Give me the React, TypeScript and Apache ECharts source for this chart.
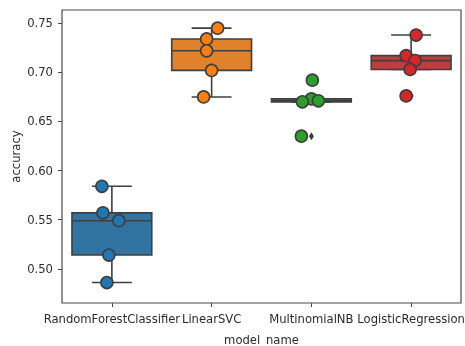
import React, { useEffect, useRef } from 'react';
import * as echarts from 'echarts';

const categories = ['RandomForestClassifier', 'LinearSVC', 'MultinomialNB', 'LogisticRegression'];
const yTicks = [0.5, 0.55, 0.6, 0.65, 0.7, 0.75];

// accuracy per fold, per model
const rfScores = [0.584, 0.557, 0.549, 0.514, 0.486];
const svcScores = [0.745, 0.734, 0.722, 0.702, 0.675];
const nbScores = [0.692, 0.673, 0.671, 0.67, 0.635];
const lrScores = [0.738, 0.717, 0.712, 0.703, 0.676];
// strip-plot jitter (in category units)
const rfJitter = [-0.1, -0.09, 0.07, -0.03, -0.05];
const svcJitter = [0.06, -0.05, -0.05, 0.0, -0.08];
const nbJitter = [0.01, 0.0, 0.07, -0.09, -0.1];
const lrJitter = [0.05, -0.05, 0.04, -0.01, -0.05];

// [lower whisker, q1, median, q3, upper whisker]
const boxStats = [
  [0.486, 0.514, 0.549, 0.557, 0.584],
  [0.675, 0.702, 0.722, 0.734, 0.745],
  [0.67, 0.67, 0.671, 0.673, 0.673],
  [0.703, 0.703, 0.712, 0.717, 0.738],
];
const outliers = [
  [2, 0.635],
  [2, 0.692],
  [3, 0.676],
];

const boxColors = ['#3274a1', '#e1812c', '#3a923a', '#c03d3e'];
const pointColors = ['#1f77b4', '#ff7f0e', '#2ca02c', '#d62728'];
const lineColor = '#3f3f3f';
const textColor = '#2b2b2b';
const fontSize = 11.6;

export default function App() {
  const ref = useRef<HTMLDivElement>(null);
  useEffect(() => {
    if (!ref.current) return;
    const chart = echarts.init(ref.current, undefined, { renderer: 'svg' });
    const allScores = [rfScores, svcScores, nbScores, lrScores];
    const allJitter = [rfJitter, svcJitter, nbJitter, lrJitter];

    const pointSeries = allScores.map((scores, ci) => ({
      type: 'scatter',
      xAxisIndex: 1,
      z: 5,
      symbol: 'circle',
      symbolSize: 12,
      itemStyle: { color: pointColors[ci], borderColor: lineColor, borderWidth: 1.6, opacity: 1 },
      data: scores.map((v, i) => [ci + allJitter[ci][i], v]),
      emphasis: { disabled: true },
    }));

    const option: any = {
      animation: false,
      grid: {
        left: 62,
        right: 4,
        top: 10,
        bottom: 43,
        containLabel: false,
        outerBoundsMode: 'none',
        show: true,
        borderColor: '#4a4a4a',
        borderWidth: 1.2,
      },
      xAxis: [
        {
          type: 'category',
          data: categories,
          name: 'model_name',
          nameLocation: 'middle',
          nameGap: 31,
          nameMoveOverlap: false,
          nameTextStyle: { fontFamily: 'DejaVu Sans', fontSize, color: textColor },
          axisLine: { show: false },
          axisTick: { show: true, alignWithLabel: true, length: 4, lineStyle: { color: '#4a4a4a' } },
          axisLabel: { interval: 0, fontFamily: 'DejaVu Sans', fontSize, color: textColor, margin: 10 },
          splitLine: { show: false },
        },
        {
          type: 'value',
          min: -0.5,
          max: 3.5,
          show: false,
        },
      ],
      yAxis: {
        type: 'value',
        min: 0.4652,
        max: 0.7635,
        name: 'accuracy',
        nameLocation: 'middle',
        nameGap: 40,
        nameMoveOverlap: false,
        nameTextStyle: { fontFamily: 'DejaVu Sans', fontSize, color: textColor },
        axisLine: { show: false, onZero: false },
        axisTick: { show: true, length: 4, customValues: yTicks, lineStyle: { color: '#4a4a4a' } },
        axisLabel: {
          customValues: yTicks,
          fontFamily: 'DejaVu Sans',
          fontSize,
          color: textColor,
          margin: 9,
          formatter: (v: number) => v.toFixed(2),
        },
        splitLine: { show: false },
      },
      series: [
        {
          type: 'custom',
          xAxisIndex: 1,
          z: 2,
          data: boxStats.map((s, i) => [i, ...s]),
          renderItem: (params: any, api: any) => {
            const ci = api.value(0);
            const lo = api.value(1);
            const q1 = api.value(2);
            const med = api.value(3);
            const q3 = api.value(4);
            const hi = api.value(5);
            const band = api.size([1, 0])[0];
            const hw = band * 0.4;
            const cw = band * 0.2;
            const pLo = api.coord([ci, lo]);
            const pQ1 = api.coord([ci, q1]);
            const pMed = api.coord([ci, med]);
            const pQ3 = api.coord([ci, q3]);
            const pHi = api.coord([ci, hi]);
            const x = pMed[0];
            const ls = { stroke: lineColor, lineWidth: 1.6 };
            return {
              type: 'group',
              children: [
                { type: 'line', shape: { x1: x, y1: pQ3[1], x2: x, y2: pHi[1] }, style: ls },
                { type: 'line', shape: { x1: x, y1: pQ1[1], x2: x, y2: pLo[1] }, style: ls },
                { type: 'line', shape: { x1: x - cw, y1: pHi[1], x2: x + cw, y2: pHi[1] }, style: ls },
                { type: 'line', shape: { x1: x - cw, y1: pLo[1], x2: x + cw, y2: pLo[1] }, style: ls },
                {
                  type: 'rect',
                  shape: { x: x - hw, y: pQ3[1], width: hw * 2, height: Math.max(pQ1[1] - pQ3[1], 0.5) },
                  style: { fill: boxColors[ci], stroke: lineColor, lineWidth: 1.6 },
                },
                { type: 'line', shape: { x1: x - hw, y1: pMed[1], x2: x + hw, y2: pMed[1] }, style: ls },
              ],
            };
          },
        },
        {
          type: 'scatter',
          xAxisIndex: 1,
          z: 3,
          symbol: 'diamond',
          symbolSize: [5, 8],
          itemStyle: { color: lineColor, opacity: 1 },
          data: outliers,
          emphasis: { disabled: true },
        },
        ...pointSeries,
      ],
    };
    chart.setOption(option);
    return () => chart.dispose();
  }, []);
  return <div ref={ref} style={{ position: 'fixed', left: 0, top: 0, width: 465, height: 346 }} />;
}
